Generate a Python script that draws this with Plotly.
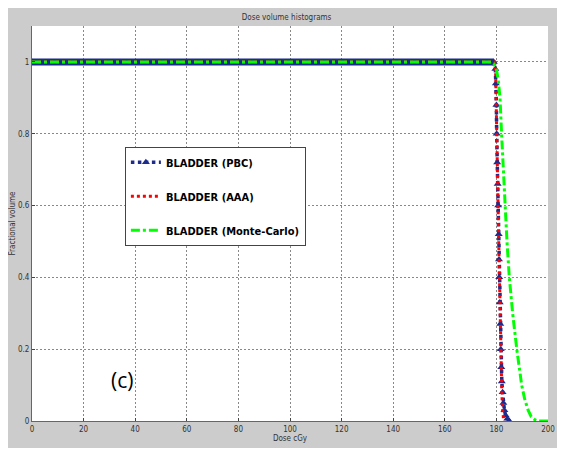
import plotly.graph_objects as go

# ---------------- data ----------------
pbc_dose = [0, 179.0, 179.6, 179.8, 180.0, 180.1, 180.3, 180.5, 180.7, 180.9, 181.0, 181.1,
            181.3, 181.5, 181.7, 181.9, 182.1, 182.4, 182.7, 183.1, 183.6, 184.2, 185.0]
pbc_vol = [1.0, 1.0, 0.98, 0.94, 0.88, 0.80, 0.72, 0.66, 0.60, 0.52, 0.45, 0.40,
           0.33, 0.27, 0.20, 0.15, 0.11, 0.08, 0.05, 0.03, 0.015, 0.006, 0.0]

aaa_dose = [0, 179.3, 179.7, 180.0, 180.3, 180.6, 180.9, 181.2, 181.5, 181.8, 182.1, 182.4, 182.8, 183.2]
aaa_vol = [1.0, 1.0, 0.97, 0.88, 0.75, 0.62, 0.50, 0.37, 0.25, 0.15, 0.08, 0.03, 0.005, 0.0]

mc_dose = [0, 178.0, 179.0, 180.0, 180.7, 181.4, 182.0, 182.7, 183.3, 184.1, 185.0, 186.3,
           187.9, 189.8, 191.0, 192.3, 193.5, 195.0, 196.0, 200.0]
mc_vol = [1.0, 1.0, 0.995, 0.98, 0.95, 0.90, 0.80, 0.70, 0.60, 0.50, 0.40, 0.30,
          0.20, 0.10, 0.06, 0.03, 0.012, 0.003, 0.0, 0.0]

series_names = ["BLADDER (PBC)", "BLADDER (AAA)", "BLADDER (Monte-Carlo)"]
x_ticks = [0, 20, 40, 60, 80, 100, 120, 140, 160, 180, 200]
y_ticks = [0, 0.2, 0.4, 0.6, 0.8, 1]
y_tick_labels = ["0", "0.2", "0.4", "0.6", "0.8", "1"]

title_text = "Dose volume histograms"
x_title = "Dose cGy"
y_title = "Fractional volume"
panel_label = "(c)"

# ---------------- figure ----------------
small_font = dict(family="DejaVu Sans Condensed, Liberation Sans", size=8, color="#333")
blue = "#1c2b8c"

fig = go.Figure()
# dense-marker band look of the PBC curve on its plateau
fig.add_trace(go.Scatter(
    x=pbc_dose[:2], y=pbc_vol[:2], mode="lines", showlegend=False, hoverinfo="skip",
    line=dict(color=blue, width=7),
))
fig.add_trace(go.Scatter(
    x=pbc_dose, y=pbc_vol, name=series_names[0], legendgroup="a",
    mode="lines+markers",
    line=dict(color=blue, width=3.5, dash="dot"),
    marker=dict(symbol="triangle-up", size=7, color=blue),
))
fig.add_trace(go.Scatter(
    x=aaa_dose, y=aaa_vol, name=series_names[1], legendgroup="b",
    mode="lines",
    line=dict(color="#ff0000", width=3, dash="dot"),
))
fig.add_trace(go.Scatter(
    x=mc_dose, y=mc_vol, name=series_names[2], legendgroup="c",
    mode="lines",
    line=dict(color="#00ff00", width=3, dash="dashdot"),
))

fig.add_annotation(x=35, y=0.115, xref="x", yref="y", text=panel_label,
                   showarrow=False, font=dict(family="Open Sans, Liberation Sans", size=21, color="black"))

fig.update_layout(
    width=557, height=440,
    margin=dict(l=24, r=17, t=18, b=27, autoexpand=False),
    paper_bgcolor="#cccccc", plot_bgcolor="white",
    title=dict(text=title_text, x=0.5, xanchor="center", y=0.98, yanchor="middle",
               font=small_font),
    showlegend=True,
    legend=dict(x=0.18, y=0.694, xanchor="left", yanchor="top",
                bgcolor="white", bordercolor="#444", borderwidth=1,
                font=dict(family="DejaVu Sans Condensed, Liberation Sans", size=11, color="black",
                          weight="bold"),
                tracegroupgap=15, itemwidth=30),
    xaxis=dict(range=[0, 200], tickvals=x_ticks, ticks="inside", ticklen=3, automargin=False,
               showgrid=True, gridcolor="#888", griddash="2px,2px", gridwidth=1,
               showline=True, linecolor="#666", linewidth=1, zeroline=False,
               tickfont=small_font,
               title=dict(text=x_title, font=small_font, standoff=2)),
    yaxis=dict(range=[0, 1.1], tickvals=y_ticks, ticktext=y_tick_labels, ticks="inside", ticklen=3,
               automargin=False,
               showgrid=True, gridcolor="#888", griddash="2px,2px", gridwidth=1,
               showline=True, linecolor="#666", linewidth=1, zeroline=False,
               tickfont=small_font,
               title=dict(text=y_title, font=small_font, standoff=1)),
)

fig.write_html("out.html")
